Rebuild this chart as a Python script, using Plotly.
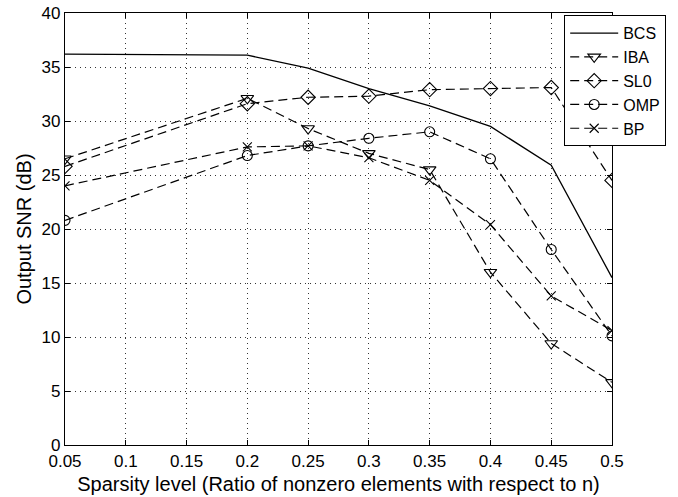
import plotly.graph_objects as go

sparsity = [0.05, 0.2, 0.25, 0.3, 0.35, 0.4, 0.45, 0.5]
snr_bcs = [36.2, 36.1, 34.9, 33.0, 31.4, 29.5, 25.9, 15.5]
snr_iba = [26.5, 32.1, 29.3, 27.0, 25.5, 16.0, 9.4, 5.8]
snr_sl0 = [25.8, 31.6, 32.2, 32.3, 32.9, 33.0, 33.1, 24.5]
snr_omp = [20.8, 26.8, 27.7, 28.4, 29.0, 26.5, 18.1, 10.1]
snr_bp = [24.0, 27.6, 27.7, 26.6, 24.5, 20.4, 13.8, 10.6]

x_ticks = [0.05, 0.1, 0.15, 0.2, 0.25, 0.3, 0.35, 0.4, 0.45, 0.5]
x_tick_text = ["0.05", "0.1", "0.15", "0.2", "0.25", "0.3", "0.35", "0.4", "0.45", "0.5"]
y_ticks = [0, 5, 10, 15, 20, 25, 30, 35, 40]

FONT = "Liberation Sans, Arial, sans-serif"
DASH = "9px,5px"

fig = go.Figure()
fig.add_trace(go.Scatter(x=sparsity, y=snr_bcs, name="BCS", mode="lines",
                         line=dict(color="black", width=1.3)))

series = [
    ("IBA", snr_iba, "triangle-down-open", 11),
    ("SL0", snr_sl0, "diamond-open", 11),
    ("OMP", snr_omp, "circle-open", 10),
    ("BP", snr_bp, "x-thin-open", 9),
]
for name, vals, sym, size in series:
    fig.add_trace(go.Scatter(
        x=sparsity, y=vals, name=name, mode="lines+markers",
        line=dict(color="black", width=1.2, dash=DASH),
        marker=dict(symbol=sym, size=size, color="black",
                    line=dict(color="black", width=1.1)),
    ))

axis_common = dict(
    showline=True, linecolor="black", linewidth=1.2, mirror="ticks",
    ticks="inside", ticklen=5, tickcolor="black", tickwidth=1,
    showgrid=True, gridcolor="#333333", gridwidth=1, griddash="1px,4px",
    zeroline=False, automargin=False,
    tickfont=dict(family=FONT, size=17, color="black"),
)

fig.update_xaxes(range=[0.05, 0.5], tickvals=x_ticks, ticktext=x_tick_text,
                 title=dict(text="Sparsity level (Ratio of nonzero elements with respect to n)",
                            font=dict(family=FONT, size=20, color="black"), standoff=7),
                 **axis_common)
fig.update_yaxes(range=[0, 40], tickvals=y_ticks,
                 title=dict(text="Output SNR (dB)",
                            font=dict(family=FONT, size=20, color="black"), standoff=4),
                 **axis_common)

fig.update_layout(
    width=678, height=497,
    margin=dict(l=65, r=63, t=13, b=52),
    paper_bgcolor="white", plot_bgcolor="white",
    font=dict(family=FONT, color="black"),
    showlegend=True,
    legend=dict(x=0.9126, y=0.995, xanchor="left", yanchor="top",
                bgcolor="white", bordercolor="black", borderwidth=1,
                font=dict(family=FONT, size=16, color="black"),
                tracegroupgap=0, itemwidth=48),
)

fig.write_html("out.html")
